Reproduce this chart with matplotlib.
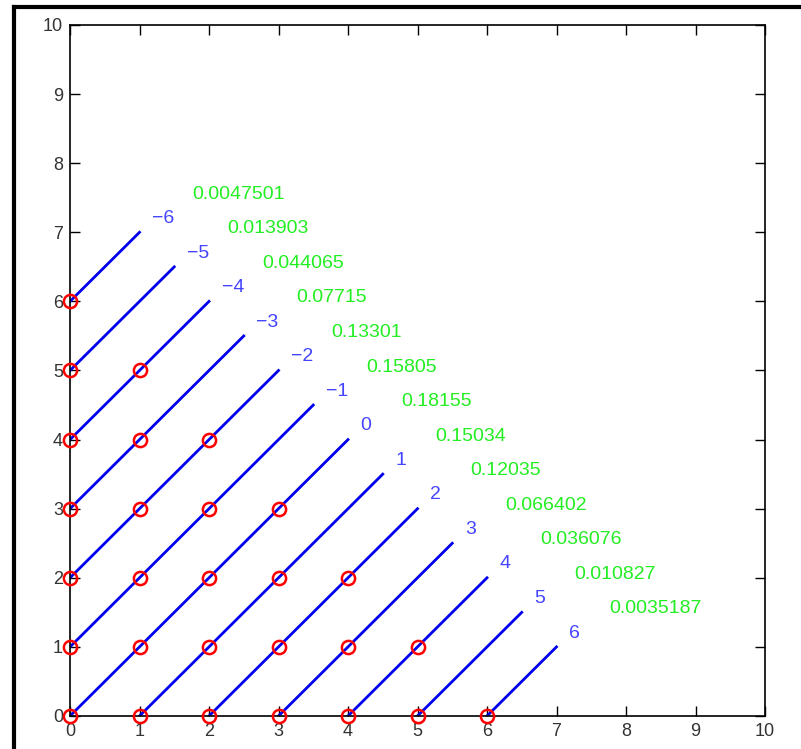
import matplotlib.pyplot as plt
from matplotlib.lines import Line2D

# differences x - y and the probability printed next to each diagonal
diffs = [-6, -5, -4, -3, -2, -1, 0, 1, 2, 3, 4, 5, 6]
probs = ["0.0047501", "0.013903", "0.044065", "0.07715", "0.13301", "0.15805",
         "0.18155", "0.15034", "0.12035", "0.066402", "0.036076", "0.010827",
         "0.0035187"]
nmax = 6      # grid points with x + y <= nmax
line_sum = 8  # diagonals run up to x + y = line_sum

plt.rcParams['font.family'] = ['Liberation Sans', 'DejaVu Sans']

fig = plt.figure(figsize=(8.01, 7.49), dpi=100)
ax = fig.add_axes([70 / 801, 33 / 749, 695 / 801, 691 / 749])

# red circles on the lattice
px, py = [], []
for x in range(nmax + 1):
    for y in range(nmax + 1 - x):
        px.append(x)
        py.append(y)

# blue diagonals with labels
for d, p in zip(diffs, probs):
    x0, y0 = max(0, d), max(0, -d)
    x1, y1 = (line_sum + d) / 2, (line_sum - d) / 2
    ax.plot([x0, x1], [y0, y1], color='#0000ee', lw=2, zorder=2)
    ax.text(x1 + 0.18, y1 + 0.2, str(d).replace('-', '\u2212'), color='#4444ff',
            fontsize=14, ha='left', va='center')
    ax.text(x1 + 0.76, y1 + 0.55, p, color='#22ee22', fontsize=14,
            ha='left', va='center')

ax.plot(px, py, 'o', mfc='none', mec='red', ms=9.5, mew=1.8, zorder=3, clip_on=False)

ax.set_xlim(0, 10)
ax.set_ylim(0, 10)
ax.set_xticks(range(11))
ax.set_yticks(range(11))
ax.tick_params(direction='in', length=7, width=1, labelsize=13, pad=5,
               labelcolor='#333333', top=True, right=True)
for s in ax.spines.values():
    s.set_linewidth(1.2)

# black frame around the figure (left and top visible)
fig.add_artist(Line2D([14 / 801, 14 / 801], [0, 1 - 7 / 749], color='black',
                      lw=3, transform=fig.transFigure))
fig.add_artist(Line2D([14 / 801, 1], [1 - 7 / 749, 1 - 7 / 749], color='black',
                      lw=3, transform=fig.transFigure))

fig.savefig('out.png', dpi=100)
